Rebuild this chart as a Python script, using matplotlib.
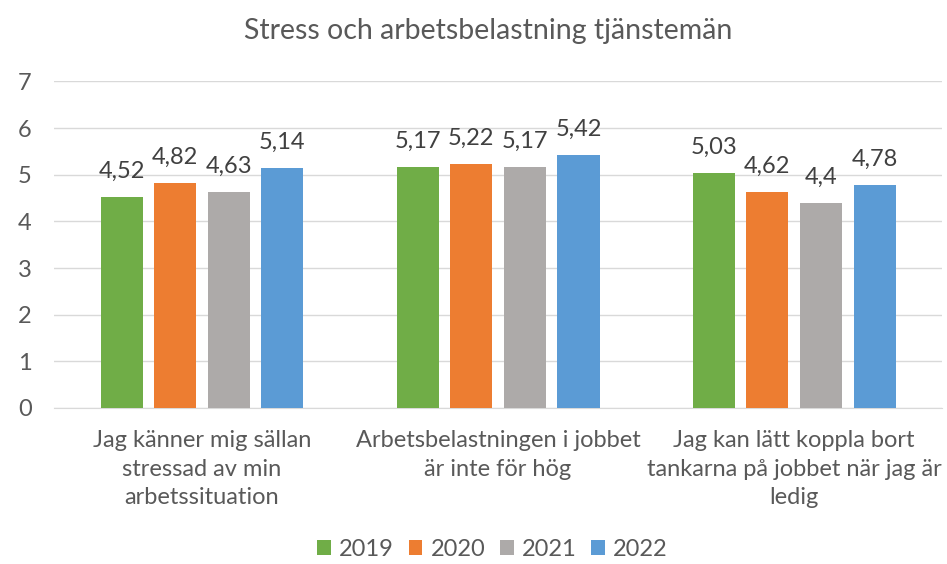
import numpy as np
import matplotlib.pyplot as plt

plt.rcParams['font.family'] = ['Lato', 'DejaVu Sans']

categories = ['Jag känner mig sällan\nstressad av min\narbetssituation',
              'Arbetsbelastningen i jobbet\när inte för hög',
              'Jag kan lätt koppla bort\ntankarna på jobbet när jag är\nledig']
years = ['2019', '2020', '2021', '2022']
v2019 = [4.52, 5.17, 5.03]
v2020 = [4.82, 5.22, 4.62]
v2021 = [4.63, 5.17, 4.4]
v2022 = [5.14, 5.42, 4.78]
colors = ['#70AD47', '#ED7D31', '#ADAAA9', '#5B9BD5']
txt = '#595959'

fig = plt.figure(figsize=(9.47, 5.64), dpi=100)
ax = fig.add_axes([0.057, 0.2766, 0.938, 0.579])

x = np.arange(len(categories))
w = 0.142
step = 0.181
series = [v2019, v2020, v2021, v2022]
for i, (vals, c, lab) in enumerate(zip(series, colors, years)):
    pos = x + (i - 1.5) * step
    bars = ax.bar(pos, vals, w, color=c, label=lab, zorder=3)
    for b, v in zip(bars, vals):
        ax.annotate(f'{v:g}'.replace('.', ','), (b.get_x() + b.get_width() / 2, v),
                    xytext=(0, 18.5), textcoords='offset points',
                    ha='center', va='center', fontsize=17, color='#404040')

ax.set_xlim(-0.5, 2.5)
ax.set_ylim(0, 7)
ax.set_yticks(range(8))
ax.yaxis.grid(True, color='#D9D9D9', linewidth=1, zorder=0)
for s in ['top', 'right', 'left']:
    ax.spines[s].set_visible(False)
ax.spines['bottom'].set_color('#D9D9D9')
ax.tick_params(axis='both', length=0, labelsize=17, colors=txt)
ax.tick_params(axis='y', pad=16)
ax.set_xticks(x)
ax.set_xticklabels(categories, fontsize=17, color=txt, linespacing=1.44)
ax.tick_params(axis='x', pad=16)

fig.text(0.515, 0.945, 'Stress och arbetsbelastning tjänstemän', ha='center', va='center',
         fontsize=20.5, color=txt)
fig.legend(loc='center', bbox_to_anchor=(0.52, 0.026), ncol=4, frameon=False,
           fontsize=17, handlelength=0.58, handleheight=0.58, columnspacing=0.62,
           handletextpad=0.35, labelcolor=txt, borderpad=0.1)

fig.savefig('out.png', dpi=100)
